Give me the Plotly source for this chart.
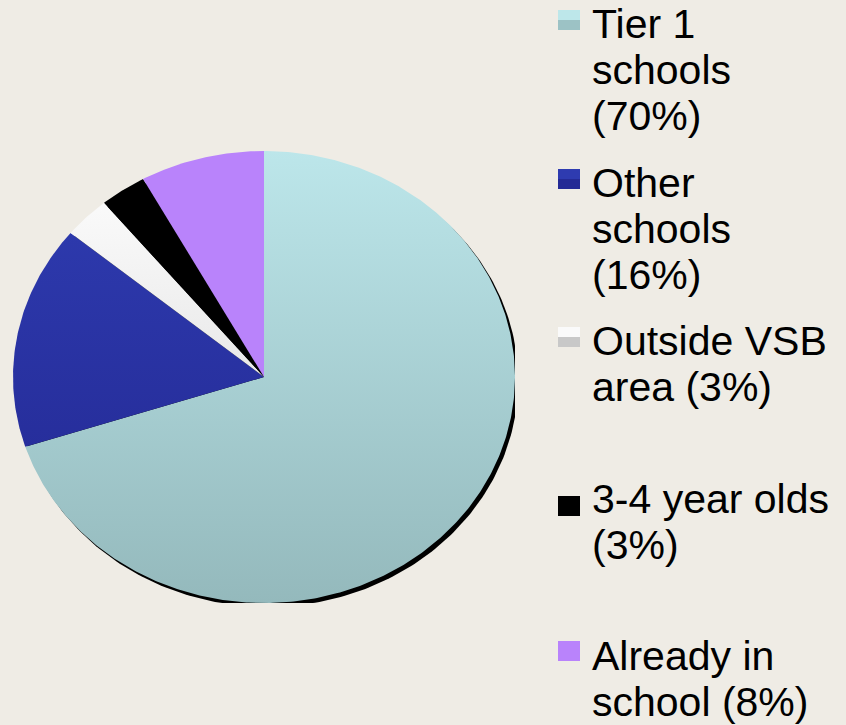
import numpy as np
import plotly.graph_objects as go

# ---- data ----
categories = ["Tier 1 schools", "Other schools", "Outside VSB area", "3-4 year olds", "Already in school"]
values = [70, 16, 3, 3, 8]
legend_labels = ["Tier 1<br>schools<br>(70%)", "Other<br>schools<br>(16%)",
                 "Outside VSB<br>area (3%)", "3-4 year olds<br>(3%)", "Already in<br>school (8%)"]

# ---- style ----
grad_top = ["#BCE6EA", "#2F3DB2", "#FFFFFF", "#000000", "#B983FB"]
grad_bot = ["#94B9BC", "#222690", "#D2D2D2", "#000000", "#B983FB"]
icon_top = ["#BDE7EA", "#2E3BB0", "#FAFAFA", "#000000", "#B983FB"]
icon_bot = ["#9CC2C5", "#242A95", "#C8C8C8", "#000000", "#B983FB"]
BG = "#EFECE5"
W, H = 846, 725
FONT = "Arial, Liberation Sans, sans-serif"
FS = 41

fig = go.Figure()

# shadow behind the pie (offset ellipse)
t = np.linspace(0, 2 * np.pi, 361)
fig.add_trace(go.Scatter(x=np.sin(t) + 0.013, y=np.cos(t) - 0.017, mode="lines",
                         fill="toself", fillcolor="#000000", line=dict(width=0),
                         hoverinfo="skip", showlegend=False))

total = sum(values)
cum = np.concatenate([[0], np.cumsum(values)]) / total
for i, cat in enumerate(categories):
    a0, a1 = cum[i] * 2 * np.pi, cum[i + 1] * 2 * np.pi
    n = max(8, int(values[i] * 6))
    th = np.linspace(a0, a1, n)
    xs = np.concatenate([[0], np.sin(th), [0]])
    ys = np.concatenate([[0], np.cos(th), [0]])
    fig.add_trace(go.Scatter(
        x=xs, y=ys, mode="lines", fill="toself", name=cat,
        line=dict(width=0, color=grad_top[i]),
        fillgradient=dict(type="vertical", start=-1, stop=1,
                          colorscale=[[0, grad_bot[i]], [1, grad_top[i]]]),
        hoverinfo="name", showlegend=False))

# ---- custom legend ----
def px(x):
    return x / W

def py(y):
    return 1 - y / H

first_baselines = [38, 197, 355, 513, 670]
line_gap = 46
icon_tops = [10, 169, 327, 496, 641]
for i, lab in enumerate(legend_labels):
    lines = lab.split("<br>")
    for k, ln in enumerate(lines):
        b = first_baselines[i] + k * line_gap
        fig.add_annotation(x=px(590), y=py(b - 0.35 * FS), xref="paper", yref="paper",
                           text=ln, showarrow=False, xanchor="left", yanchor="middle",
                           font=dict(family=FONT, size=FS, color="#000000"))
    # legend icon: two halves to suggest the vertical gradient
    fig.add_shape(type="rect", xref="paper", yref="paper",
                  x0=px(558), x1=px(580), y0=py(icon_tops[i]), y1=py(icon_tops[i] + 10),
                  fillcolor=icon_top[i], line=dict(width=0))
    fig.add_shape(type="rect", xref="paper", yref="paper",
                  x0=px(558), x1=px(580), y0=py(icon_tops[i] + 10), y1=py(icon_tops[i] + 20),
                  fillcolor=icon_bot[i], line=dict(width=0))

fig.update_layout(
    width=W, height=H, paper_bgcolor=BG, plot_bgcolor=BG,
    margin=dict(l=0, r=0, t=0, b=0),
    xaxis=dict(domain=[px(13), px(515)], range=[-1, 1], visible=False, fixedrange=True),
    yaxis=dict(domain=[py(603), py(151)], range=[-1, 1], visible=False, fixedrange=True),
    showlegend=False,
)

fig.write_html("out.html", config={"displayModeBar": False},
               post_script="document.body.style.margin='0';document.body.style.overflow='hidden';")
